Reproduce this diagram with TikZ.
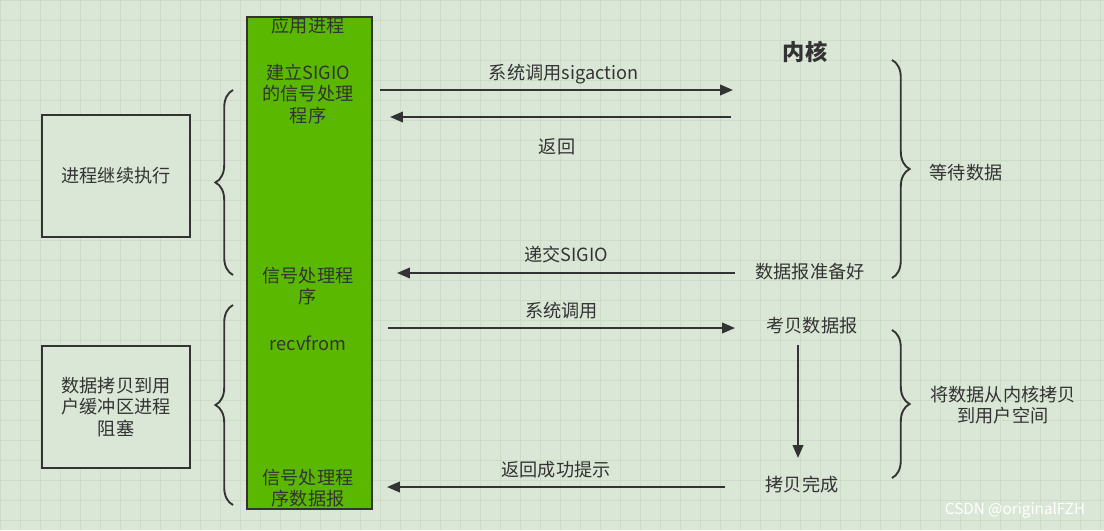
\documentclass[tikz,border=0pt]{standalone}
\usepackage{fontspec}
\setmainfont{Noto Sans CJK SC}
\usetikzlibrary{arrows.meta,decorations.pathreplacing}
\definecolor{bg}{HTML}{DAE7D6}
\definecolor{gridc}{HTML}{CCDCC7}
\definecolor{gbox}{HTML}{5AB800}
\definecolor{ink}{HTML}{333333}
\tikzset{
  lbl/.style={font=\fontsize{15.5}{18}\selectfont, text=ink, align=center, inner sep=0pt},
  side/.style={draw=ink, line width=1.5pt, fill=bg, minimum width=148*0.03cm, minimum height=122*0.03cm, lbl},
  arr/.style={draw=ink, line width=1.6pt, -{Triangle[length=11pt,width=9pt]}},
  brc/.style={draw=ink, line width=1.6pt, decorate, decoration={brace, amplitude=15pt}},
}
\begin{document}
\begin{tikzpicture}[x=0.03cm,y=-0.03cm]
\fill[bg] (0,0) rectangle (1104,530);
\useasboundingbox (0,0) rectangle (1104,530);
\draw[gridc, line width=0.6pt, step=0.6cm] (0,0) grid (1104,530);
\node[draw=ink, line width=1.5pt, fill=gbox, minimum width=125*0.03cm, minimum height=492*0.03cm, anchor=north west] (app) at (246,16) {};
\node[lbl] (t1) at (308,26) {应用进程};
\node[lbl] (t2) at (308,94) {建立SIGIO\\的信号处理\\程序};
\node[lbl] (t3) at (308,286) {信号处理程\\序};
\node[lbl] (t4) at (308,343) {recvfrom};
\node[lbl] (t5) at (308,488) {信号处理程\\序数据报};
\node[side] (b1) at (116,176) {进程继续执行};
\node[side] (b2) at (116,407) {数据拷贝到用\\户缓冲区进程\\阻塞};
\draw[brc] (233,275) -- (233,90);
\draw[brc] (233,505) -- (233,305);
\draw[brc] (892,60) -- (892,278);
\draw[brc] (892,330) -- (892,478);
\node[lbl,font=\fontsize{19}{22}\selectfont\bfseries] (k) at (805,52) {内核};
\node[lbl] (w) at (966,173) {等待数据};
\node[lbl] (c) at (1003,405) {将数据从内核拷贝\\到用户空间};
\coordinate (a1s) at (380,90); \coordinate (a1e) at (733,90);
\coordinate (a2s) at (731,117); \coordinate (a2e) at (390,117);
\coordinate (a3s) at (735,273); \coordinate (a3e) at (397,273);
\coordinate (a4s) at (388,328); \coordinate (a4e) at (735,328);
\coordinate (a5s) at (798,345); \coordinate (a5e) at (798,458);
\coordinate (a6s) at (725,487); \coordinate (a6e) at (387,487);
\draw[arr] (a1s) -- (a1e) node[lbl, pos=0.52, above=4pt] {系统调用sigaction};
\draw[arr] (a2s) -- (a2e) node[lbl, pos=0.51, below=18pt] {返回};
\draw[arr] (a3s) -- (a3e) node[lbl, pos=0.5, above=8pt] {递交SIGIO};
\node[lbl] (ready) at (810,272) {数据报准备好};
\node[lbl] (copy) at (812,326) {考贝数据报};
\draw[arr] (a4s) -- (a4e) node[lbl, midway, above=7pt] {系统调用};
\node[lbl] (done) at (802,485) {拷贝完成};
\draw[arr] (a5s) -- (a5e);
\draw[arr] (a6s) -- (a6e) node[lbl, midway, above=7pt] {返回成功提示};
\node[lbl, text=white, font=\fontsize{13}{15}\selectfont] (wm) at (1015,510) {CSDN @originalFZH};
\end{tikzpicture}
\end{document}
